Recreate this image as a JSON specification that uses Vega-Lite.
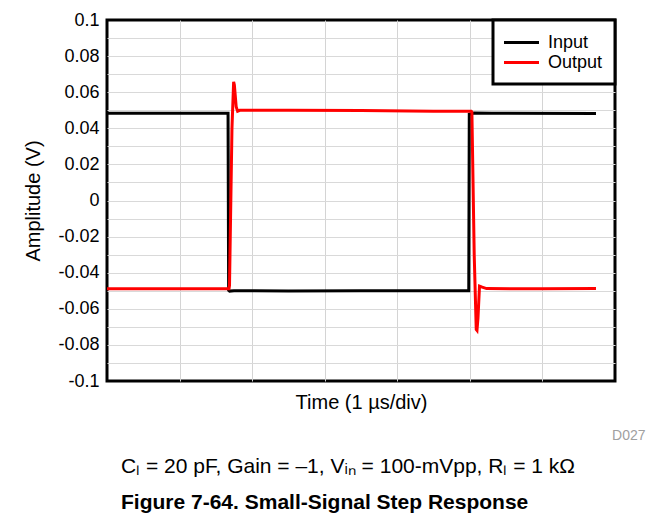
{
  "$schema": "https://vega.github.io/schema/vega-lite/v6.json",
  "width": 508,
  "height": 361,
  "autosize": {"type": "none"},
  "padding": {"left": 107, "top": 20, "right": 46, "bottom": 137},
  "background": "white",
  "datasets": {
    "input": [
      {"t": 0, "v": 0.0483, "s": "Input"},
      {"t": 1.668, "v": 0.0483, "s": "Input"},
      {"t": 1.676, "v": -0.0497, "s": "Input"},
      {"t": 1.69, "v": -0.0502, "s": "Input"},
      {"t": 1.75, "v": -0.05, "s": "Input"},
      {"t": 2.5, "v": -0.0501, "s": "Input"},
      {"t": 3.5, "v": -0.05, "s": "Input"},
      {"t": 4.985, "v": -0.05, "s": "Input"},
      {"t": 4.992, "v": 0.0478, "s": "Input"},
      {"t": 5.06, "v": 0.0485, "s": "Input"},
      {"t": 5.3, "v": 0.0483, "s": "Input"},
      {"t": 6.738, "v": 0.0482, "s": "Input"}
    ],
    "output": [
      {"t": 0, "v": -0.0489, "s": "Output"},
      {"t": 1.68, "v": -0.0489, "s": "Output"},
      {"t": 1.688, "v": -0.047, "s": "Output"},
      {"t": 1.722, "v": 0.04, "s": "Output"},
      {"t": 1.745, "v": 0.0658, "s": "Output"},
      {"t": 1.755, "v": 0.064, "s": "Output"},
      {"t": 1.78, "v": 0.052, "s": "Output"},
      {"t": 1.8, "v": 0.0495, "s": "Output"},
      {"t": 1.83, "v": 0.05, "s": "Output"},
      {"t": 2.5, "v": 0.05, "s": "Output"},
      {"t": 3.5, "v": 0.0498, "s": "Output"},
      {"t": 4.5, "v": 0.0495, "s": "Output"},
      {"t": 5.02, "v": 0.0494, "s": "Output"},
      {"t": 5.028, "v": 0.049, "s": "Output"},
      {"t": 5.06, "v": -0.03, "s": "Output"},
      {"t": 5.088, "v": -0.0715, "s": "Output"},
      {"t": 5.098, "v": -0.072, "s": "Output"},
      {"t": 5.112, "v": -0.065, "s": "Output"},
      {"t": 5.133, "v": -0.0474, "s": "Output"},
      {"t": 5.17, "v": -0.048, "s": "Output"},
      {"t": 5.23, "v": -0.0488, "s": "Output"},
      {"t": 6.0, "v": -0.0489, "s": "Output"},
      {"t": 6.738, "v": -0.0488, "s": "Output"}
    ]
  },
  "title": {
    "text": "Cₗ = 20 pF, Gain = –1, Vᵢₙ = 100-mVpp, Rₗ = 1 kΩ",
    "subtitle": "Figure 7-64. Small-Signal Step Response",
    "orient": "bottom",
    "anchor": "start",
    "frame": "group",
    "dx": 14,
    "offset": 14,
    "font": "Liberation Sans",
    "fontSize": 21,
    "fontWeight": "normal",
    "color": "black",
    "subtitleFont": "Liberation Sans",
    "subtitleFontSize": 21,
    "subtitleFontWeight": "bold",
    "subtitleColor": "black",
    "subtitlePadding": 15
  },
  "layer": [
    {
      "data": {"name": "input"},
      "mark": {"type": "line", "strokeWidth": 3},
      "encoding": {
        "x": {
          "field": "t",
          "type": "quantitative",
          "scale": {"domain": [0, 7], "nice": false, "zero": false},
          "axis": {
            "title": "Time (1 µs/div)",
            "values": [0, 1, 2, 3, 4, 5, 6, 7],
            "labels": false,
            "ticks": false,
            "domain": false,
            "grid": true,
            "gridColor": {"condition": {"test": "datum.value <= 0.01 || datum.value >= 6.99", "value": "transparent"}, "value": "#d4d4d4"},
            "titleFont": "Liberation Sans",
            "titleFontSize": 20,
            "titleFontWeight": "normal",
            "titleColor": "black",
            "titlePadding": 11
          }
        },
        "y": {
          "field": "v",
          "type": "quantitative",
          "scale": {"domain": [-0.1, 0.1], "nice": false, "zero": false},
          "axis": {
            "title": "Amplitude (V)",
            "values": [-0.1, -0.09, -0.08, -0.07, -0.06, -0.05, -0.04, -0.03, -0.02, -0.01, 0, 0.01, 0.02, 0.03, 0.04, 0.05, 0.06, 0.07, 0.08, 0.09, 0.1],
            "labelExpr": "round(datum.value * 100) % 2 == 0 ? replace(format(datum.value, '.2~f'), '\u2212', '-') : ''",
            "labelOverlap": false,
            "ticks": false,
            "domain": false,
            "grid": true,
            "gridColor": {"condition": {"test": "abs(datum.value) >= 0.099", "value": "transparent"}, "value": "#d9d9d9"},
            "labelFont": "Liberation Sans",
            "labelFontSize": 18,
            "labelColor": "black",
            "labelPadding": 8,
            "titleFont": "Liberation Sans",
            "titleFontSize": 20,
            "titleFontWeight": "normal",
            "titleColor": "black",
            "titlePadding": 14
          }
        },
        "color": {
          "field": "s",
          "type": "nominal",
          "scale": {"domain": ["Input", "Output"], "range": ["#000000", "#ff0000"]},
          "legend": {
            "title": null,
            "orient": "top-right",
            "offset": 0,
            "fillColor": "white",
            "strokeColor": "black",
            "padding": 12,
            "symbolType": "M-2,0H2",
            "symbolSize": 306,
            "symbolStrokeWidth": 3,
            "symbolOffset": 6,
            "labelFont": "Liberation Sans",
            "labelFontSize": 18,
            "labelColor": "black",
            "labelOffset": 16,
            "rowPadding": 0
          }
        }
      }
    },
    {
      "data": {"name": "output"},
      "mark": {"type": "line", "strokeWidth": 3},
      "encoding": {
        "x": {
          "field": "t",
          "type": "quantitative",
          "scale": {"domain": [0, 7], "nice": false, "zero": false},
          "axis": {
            "orient": "bottom",
            "title": "D027",
            "labels": false,
            "ticks": false,
            "domain": false,
            "grid": false,
            "titleFont": "Liberation Sans",
            "titleFontSize": 14,
            "titleFontWeight": "normal",
            "titleColor": "#a0a0a0",
            "titleAlign": "right",
            "titleBaseline": "middle",
            "titleX": 538,
            "titleY": 54
          }
        },
        "y": {
          "field": "v",
          "type": "quantitative",
          "scale": {"domain": [-0.1, 0.1], "nice": false, "zero": false},
          "axis": {
            "title": "Amplitude (V)",
            "values": [-0.1, -0.09, -0.08, -0.07, -0.06, -0.05, -0.04, -0.03, -0.02, -0.01, 0, 0.01, 0.02, 0.03, 0.04, 0.05, 0.06, 0.07, 0.08, 0.09, 0.1],
            "labelExpr": "round(datum.value * 100) % 2 == 0 ? replace(format(datum.value, '.2~f'), '\u2212', '-') : ''",
            "labelOverlap": false,
            "ticks": false,
            "domain": false,
            "grid": true,
            "gridColor": {"condition": {"test": "abs(datum.value) >= 0.099", "value": "transparent"}, "value": "#d9d9d9"},
            "labelFont": "Liberation Sans",
            "labelFontSize": 18,
            "labelColor": "black",
            "labelPadding": 8,
            "titleFont": "Liberation Sans",
            "titleFontSize": 20,
            "titleFontWeight": "normal",
            "titleColor": "black",
            "titlePadding": 14
          }
        },
        "color": {
          "field": "s",
          "type": "nominal",
          "scale": {"domain": ["Input", "Output"], "range": ["#000000", "#ff0000"]}
        }
      }
    }
  ],
  "resolve": {"axis": {"x": "independent"}},
  "config": {
    "font": "Liberation Sans",
    "view": {"stroke": "black", "strokeWidth": 3},
    "legend": {"strokeWidth": 3}
  }
}
